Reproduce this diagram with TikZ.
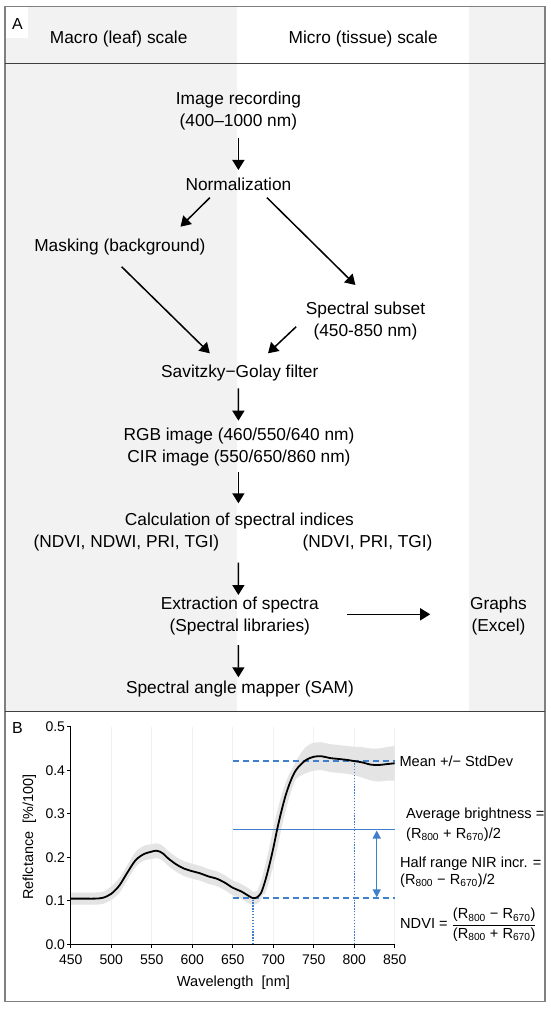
\documentclass[tikz,border=0pt]{standalone}
\usepackage{fontspec}
\setmainfont{Liberation Sans}
\usetikzlibrary{arrows.meta,calc}
\definecolor{panelgray}{HTML}{F2F2F2}
\definecolor{bordergray}{HTML}{808080}
\definecolor{darkline}{HTML}{404040}
\definecolor{lineblue}{HTML}{3F7FCC}
\definecolor{bandgray}{HTML}{E4E4E4}
\definecolor{gridc}{HTML}{EEF1F5}
\begin{document}
\begin{tikzpicture}[x=1pt,y=-1pt,
  lbl/.style={inner sep=0pt, font=\fontsize{17.3}{21.5}\selectfont, align=center},
  arr/.style={line width=1.5pt, -{Triangle[length=10pt,width=12pt]}},
  blbl/.style={inner sep=0pt, anchor=west, font=\fontsize{14.6}{17}\selectfont},
  ticklbl/.style={inner sep=0pt, font=\fontsize{14}{16}\selectfont},
  panellbl/.style={inner sep=0pt, font=\fontsize{16}{18}\selectfont},
  bline/.style={draw=lineblue, line width=1.5pt}
]
\useasboundingbox (0,0) rectangle (550,1011);
% ---------------- Panel A background ----------------
\fill[white] (0,0) rectangle (550,1011);
\fill[panelgray] (5,6.7) rectangle (236.7,711.7);
\fill[panelgray] (469,6.7) rectangle (545,711.7);
\fill[white] (5,6.7) rectangle (27.5,38);
\draw[bordergray, line width=1.2pt] (5,6.7) rectangle (545,711.7);
\draw[darkline, line width=1.2pt] (5,63.3) -- (545,63.3);
\node[panellbl] (labA) at (17.5,24) {A};
\node[lbl] (macro) at (118.7,39.3) {Macro (leaf) scale};
\node[lbl] (micro) at (363.2,39.3) {Micro (tissue) scale};
% ---------------- Flow nodes ----------------
\node[lbl] (rec) at (238.4,110.8) {Image recording\\(400–1000 nm)};
\node[lbl] (norm) at (238.4,184) {Normalization};
\node[lbl] (mask) at (119.9,246.7) {Masking (background)};
\node[lbl] (subset) at (365.5,321.2) {Spectral subset\\(450-850 nm)};
\node[lbl] (sg) at (239.8,373.3) {Savitzky−Golay filter};
\node[lbl] (rgb) at (239,447.2) {RGB image (460/550/640 nm)\\CIR image (550/650/860 nm)};
\node[lbl] (calc) at (239.4,520.7) {Calculation of spectral indices};
\node[lbl] (ndviL) at (126.4,542.7) {(NDVI, NDWI, PRI, TGI)};
\node[lbl] (ndviR) at (367.6,542.7) {(NDVI, PRI, TGI)};
\node[lbl] (extr) at (239.8,615.8) {Extraction of spectra\\(Spectral libraries)};
\node[lbl] (graphs) at (498.5,615.8) {Graphs\\(Excel)};
\node[lbl] (sam) at (240,689.3) {Spectral angle mapper (SAM)};
% ---------------- Flow arrows ----------------
\draw[arr] ($(rec.center)+(0,27.5)$) -- ($(norm.center)+(0,-14)$);
\draw[arr] ($(norm.center)+(-28.6,13.7)$) -- ($(mask.center)+(60.6,-20)$);
\draw[arr] ($(norm.center)+(28.6,13.7)$) -- ($(subset.center)+(-10.1,-36.2)$);
\draw[arr] ($(mask.center)+(1.7,20)$) -- ($(sg.center)+(-30,-20)$);
\draw[arr] ($(subset.center)+(-69.3,5.5)$) -- ($(sg.center)+(28.2,-20)$);
\draw[arr] ($(sg.center)+(-1.4,15)$) -- ($(rgb.center)+(-0.6,-26.5)$);
\draw[arr] ($(rgb.center)+(-0.6,24.5)$) -- ($(calc.center)+(-1,-17.4)$);
\draw[arr] ($(calc.center)+(-1,42)$) -- ($(extr.center)+(-1.4,-20.8)$);
\draw[arr] ($(extr.center)+(107.5,-1.5)$) -- ($(graphs.center)+(-68.3,-1.5)$);
\draw[arr] ($(extr.center)+(-1.4,29.2)$) -- ($(sam.center)+(-1.6,-12)$);
% ---------------- Panel B ----------------
\draw[bordergray, line width=1.2pt] (5,711.7) rectangle (545,1001.7);
\draw[darkline, line width=1.4pt] (5,711.7) -- (545,711.7);
\node[panellbl] (labB) at (17.5,728) {B};
\begin{scope}[shift={(-293.8pt,-944.3pt)}, x=0.81pt, y=435.2pt]
  \foreach \l in {500,550,...,850} \draw[gridc, line width=0.7pt] (\l,0) -- (\l,0.5);
  % std-dev band
  \fill[bandgray] plot[smooth, tension=0.5] coordinates {
    (450,.119) (460,.119) (470,.119) (480,.119) (490,.121) (500,.133) (510,.152)
    (520,.182) (530,.212) (540,.226) (550,.230) (555,.232) (560,.230) (565,.224)
    (570,.215) (580,.201) (590,.191) (600,.185) (610,.180) (620,.173) (630,.168)
    (640,.159) (650,.147) (660,.139) (670,.128) (675,.121) (680,.123) (685,.133)
    (690,.160) (695,.195) (700,.235) (705,.280) (710,.320) (715,.355) (720,.383)
    (725,.407) (730,.427) (740,.453) (750,.463) (760,.464) (770,.460) (780,.458)
    (790,.456) (800,.454) (810,.453) (820,.450) (830,.450) (840,.453) (850,.456)}
    -- plot[smooth, tension=0.5] coordinates {
    (850,.376) (840,.376) (830,.374) (820,.377) (810,.383) (800,.389) (790,.392)
    (780,.394) (770,.396) (760,.400) (750,.399) (740,.393) (730,.383) (725,.373)
    (720,.353) (715,.325) (710,.290) (705,.250) (700,.205) (695,.165) (690,.130)
    (685,.103) (680,.093) (675,.091) (670,.094) (660,.105) (650,.113) (640,.125)
    (630,.134) (620,.139) (610,.146) (600,.151) (590,.157) (580,.167) (570,.181)
    (565,.190) (560,.196) (555,.198) (550,.196) (540,.192) (530,.178) (520,.148)
    (510,.118) (500,.102) (490,.093) (480,.091) (470,.091) (460,.091) (450,.091)}
    -- cycle;
  \draw[bandgray, line width=8pt] plot[smooth, tension=0.5] coordinates {
    (685,.118) (690,.145) (695,.180) (700,.220) (705,.265) (710,.305) (715,.340)
    (720,.368) (725,.390) (730,.405)};
  % blue guide lines
  \draw[bline, dash pattern=on 6pt off 4pt] (650,.421) -- (850,.421);
  \draw[bline, dash pattern=on 6pt off 4pt] (650,.106) -- (850,.106);
  \draw[bline] (650,.2635) -- (850,.2635);
  \draw[lineblue, line width=1.1pt, dash pattern=on 1.3pt off 1.6pt] (675,0) -- (675,.106);
  \draw[lineblue, line width=1.1pt, dash pattern=on 1.3pt off 1.6pt] (800,0) -- (800,.421);
  \draw[lineblue, line width=1.5pt, {Triangle[length=8pt,width=8pt]}-{Triangle[length=8pt,width=8pt]}]
    (827.8,.108) -- (827.8,.2615);
  % mean curve
  \draw[line width=1.8pt, line join=round] plot[smooth, tension=0.5] coordinates {
    (450,.105) (460,.105) (470,.105) (480,.105) (490,.107) (500,.116) (510,.135)
    (520,.165) (530,.193) (540,.207) (550,.213) (555,.215) (560,.213) (565,.207)
    (570,.198) (580,.184) (590,.174) (600,.168) (610,.163) (620,.156) (630,.151)
    (640,.142) (650,.130) (660,.122) (670,.111) (675,.106) (680,.108) (685,.118)
    (690,.145) (695,.180) (700,.220) (705,.265) (710,.305) (715,.340) (720,.368)
    (725,.390) (730,.405) (740,.423) (750,.431) (760,.432) (770,.428) (780,.426)
    (790,.424) (800,.421) (810,.418) (820,.413) (830,.412) (840,.414) (850,.416)};
  % axes
  \draw[line width=1.3pt] (450,.5) -- (450,0) -- (850,0);
  \foreach \v in {0,0.1,0.2,0.3,0.4,0.5} \draw[line width=1.1pt] (450,\v) -- ++(-4pt,0);
  \foreach \l in {450,500,...,850} \draw[line width=1.1pt] (\l,0) -- ++(0,-4pt);
  \foreach \v/\t in {0/0.0,0.1/0.1,0.2/0.2,0.3/0.3,0.4/0.4,0.5/0.5}
    \node[ticklbl, anchor=east, xshift=-5.5pt] (ty\t) at (450,\v) {\t};
  \foreach \l in {450,500,...,850}
    \node[ticklbl, yshift=-15pt] (tx\l) at (\l,0) {\l};
\end{scope}
\node[inner sep=0pt, rotate=90, font=\fontsize{14.4}{17}\selectfont] (ylab) at (29.3,837.3) {Reflctance\ \ [\%/100]};
\node[inner sep=0pt, font=\fontsize{14.6}{17}\selectfont] (xlab) at (233.5,983) {Wavelength\ \ [nm]};
\node[blbl] (mean) at (399.3,761) {Mean +/− StdDev};
\node[blbl] (avg1) at (406,815) {Average brightness =};
\node[blbl] (avg2) at (406,835) {(R\textsubscript{800} + R\textsubscript{670})/2};
\node[blbl] (half1) at (400,863.3) {Half range NIR incr. =};
\node[blbl] (half2) at (400,881) {(R\textsubscript{800} − R\textsubscript{670})/2};
\node[blbl] (ndvi) at (400,925) {NDVI = $\displaystyle\frac{\mbox{(R\textsubscript{800} − R\textsubscript{670})}}{\mbox{(R\textsubscript{800} + R\textsubscript{670})}}$};
\end{tikzpicture}
\end{document}
